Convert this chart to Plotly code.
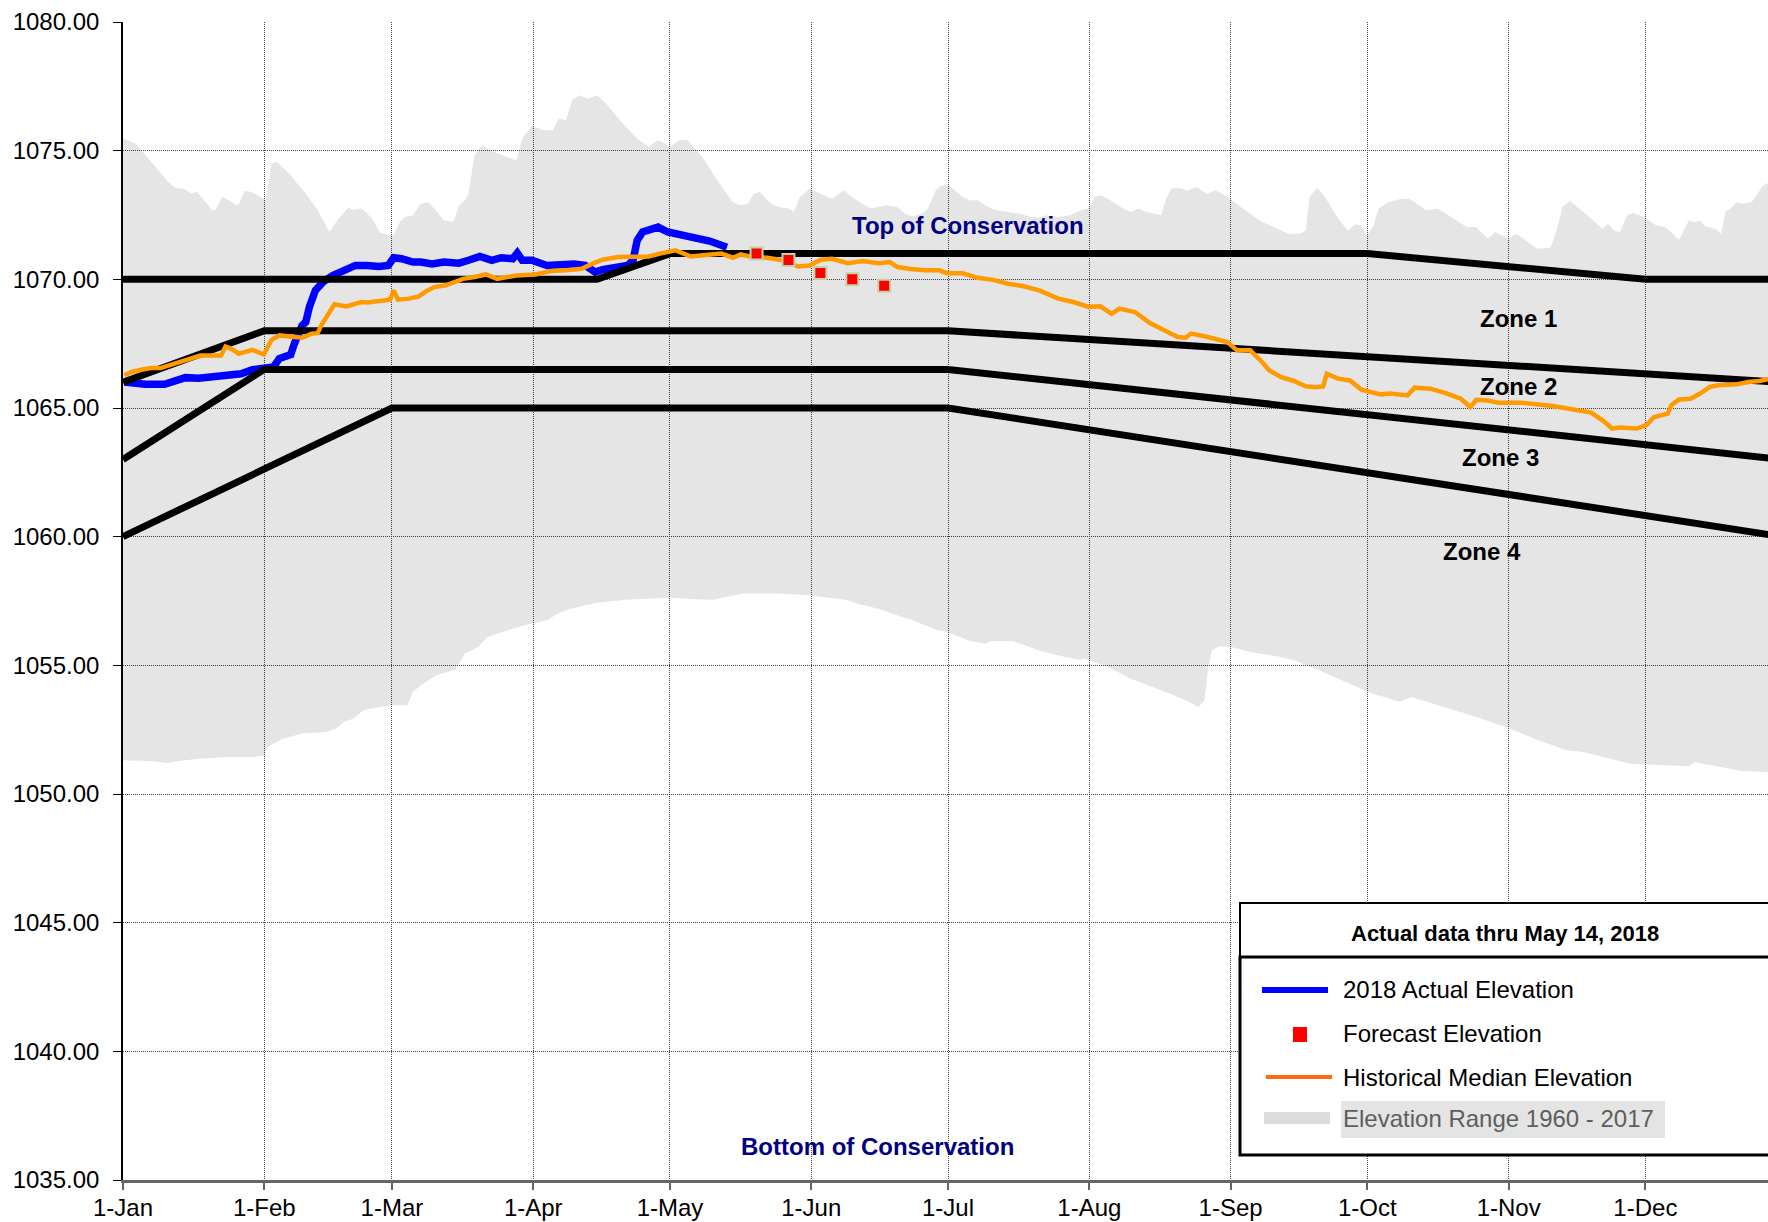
import pandas as pd
import plotly.graph_objects as go

START = pd.Timestamp("2018-01-01")

# ---------------- data (day of year offsets from 1-Jan, elevations in ft) ----------------
range_top_day = [0, 2.8, 6.5, 9.9, 11.6, 13.3, 15.0, 16.2, 19.6, 20.4, 21.7, 23.3, 24.6, 25.4, 26.7, 28.0,
                 30.9, 31.3, 32.6, 33.8, 36.8, 40.1, 42.7, 45.3, 46.9, 49.4, 50.6, 52.3, 54.4, 56.5, 58.6,
                 59.4, 60.7, 61.9, 63.6, 65.3, 67.0, 68.3, 70.4, 72.5, 73.7, 75.0, 75.8, 77.1, 78.8, 80.4,
                 82.1, 84.2, 86.3, 87.6, 89.7, 92.2, 94.3, 95.6, 97.2, 98.5, 100.2, 101.9, 104.0, 106.1,
                 109.4, 112.8, 115.3, 117.4, 119.1, 119.9, 122.0, 123.7, 127.1, 130.4, 133.8, 135.5, 137.1,
                 138.4, 139.7, 142.2, 143.9, 146.0, 147.2, 148.5, 150.6, 153.1, 155.6, 158.1, 160.7, 164.0,
                 167.4, 169.9, 171.6, 173.2, 175.3, 176.6, 178.3, 179.5, 181.2, 182.9, 184.2, 185.8, 187.5,
                 189.2, 190.9, 194.2, 196.8, 199.3, 201.0, 202.6, 205.2, 207.7, 210.2, 211.9, 213.1, 214.4,
                 216.1, 217.8, 219.4, 221.1, 222.8, 224.5, 226.1, 227.8, 228.7, 229.9, 231.6, 233.5, 235.6,
                 237.7, 239.8, 242.3, 245.7, 249.4, 253.2, 255.7, 258.2, 259.5, 260.3, 262.0, 263.7, 266.6,
                 268.7, 270.4, 271.7, 272.9, 274.2, 275.5, 277.6, 280.1, 282.2, 284.3, 286.0, 288.5, 291.8,
                 294.8, 296.9, 299.4, 301.1, 302.7, 304.0, 305.7, 308.2, 310.3, 311.6, 313.2, 314.5, 315.8,
                 317.4, 319.5, 322.1, 324.6, 325.8, 327.1, 328.4, 330.0, 331.3, 333.8, 336.3, 338.4, 341.4,
                 343.5, 344.7, 346.0, 347.2, 349.3, 350.6, 351.6, 352.7, 354.0, 355.2, 357.3, 358.6, 359.8,
                 361.4, 364.0]
range_top_elev = [1075.47, 1075.27, 1074.5, 1073.78, 1073.55, 1073.52, 1073.35, 1073.4, 1072.68, 1072.7,
                  1073.2, 1073.07, 1072.9, 1072.9, 1073.43, 1073.4, 1073.13, 1073.07, 1074.5, 1074.56,
                  1074.04, 1073.33, 1072.68, 1071.84, 1072.27, 1072.78, 1072.7, 1072.75, 1072.42, 1071.8,
                  1071.71, 1071.71, 1072.23, 1072.42, 1072.49, 1072.94, 1073.0, 1072.75, 1072.29, 1072.23,
                  1072.87, 1073.07, 1073.33, 1074.82, 1075.21, 1075.04, 1074.9, 1074.75, 1074.62, 1075.47,
                  1075.98, 1075.79, 1075.79, 1076.24, 1076.18, 1076.96, 1077.15, 1077.02, 1077.15, 1076.8,
                  1076.1, 1075.47, 1075.14, 1075.4, 1075.27, 1075.14, 1075.4, 1075.43, 1074.75, 1073.85,
                  1073.0, 1072.88, 1072.94, 1073.33, 1073.4, 1072.94, 1072.81, 1072.75, 1072.62, 1073.2,
                  1073.52, 1073.33, 1073.13, 1073.46, 1073.1, 1072.75, 1072.88, 1072.81, 1072.55, 1072.45,
                  1072.55, 1072.75, 1073.46, 1073.65, 1073.65, 1073.4, 1073.2, 1073.07, 1073.07, 1072.88,
                  1072.71, 1072.62, 1072.55, 1072.42, 1072.4, 1072.49, 1072.42, 1072.49, 1072.68, 1072.75,
                  1073.2, 1073.27, 1073.13, 1072.94, 1072.75, 1072.62, 1072.75, 1072.62, 1072.55, 1072.49,
                  1073.07, 1073.52, 1073.56, 1073.45, 1073.59, 1073.33, 1073.46, 1073.2, 1072.75, 1072.29,
                  1071.97, 1071.77, 1071.77, 1071.9, 1073.2, 1073.56, 1073.2, 1072.36, 1071.9, 1072.14,
                  1072.1, 1071.71, 1072.03, 1072.75, 1073.0, 1073.12, 1073.13, 1072.88, 1072.68, 1072.75,
                  1072.36, 1072.03, 1072.03, 1071.58, 1071.84, 1071.71, 1071.58, 1071.77, 1071.45, 1071.19,
                  1071.21, 1071.23, 1071.9, 1072.81, 1073.05, 1072.75, 1072.36, 1071.97, 1072.16, 1071.9,
                  1071.84, 1072.49, 1072.58, 1072.42, 1072.1, 1072.03, 1071.54, 1072.29, 1072.22, 1072.29,
                  1072.06, 1071.97, 1071.77, 1072.65, 1072.75, 1073.0, 1072.94, 1073.0, 1073.33, 1073.65,
                  1073.78, 1074.2]

range_bot_day = [0, 6.5, 9.5, 12.4, 16.6, 23.3, 28.4, 30.9, 31.7, 35.1, 39.3, 44.3, 46.7, 48.4, 50.6, 52.7,
                 56.1, 59.4, 62.4, 63.6, 65.3, 68.7, 72.9, 73.7, 75.0, 77.9, 80.0, 82.1, 85.5, 88.0, 93.0,
                 95.5, 98.1, 101.4, 103.6, 110.3, 115.3, 120.4, 125.4, 129.6, 132.1, 136.3, 143.9, 150.6,
                 154.8, 159.0, 161.5, 165.7, 169.9, 173.2, 178.3, 180.8, 185.8, 189.2, 190.5, 195.1, 201.0,
                 206.0, 209.4, 211.0, 216.1, 221.1, 226.1, 229.7, 233.1, 236.0, 237.3, 238.1, 238.9, 240.6,
                 243.1, 247.3, 253.2, 256.6, 261.6, 270.0, 274.2, 280.1, 282.6, 288.5, 296.9, 303.6, 310.3,
                 316.6, 320.4, 330.5, 333.8, 343.5, 344.7, 350.6, 354.8, 361.4, 364.0]
range_bot_elev = [1051.31, 1051.27, 1051.2, 1051.28, 1051.37, 1051.44, 1051.44, 1051.5, 1051.83, 1052.15,
                  1052.35, 1052.41, 1052.54, 1052.8, 1052.93, 1053.25, 1053.38, 1053.45, 1053.45, 1053.96,
                  1054.22, 1054.61, 1054.83, 1055.07, 1055.46, 1055.71, 1056.1, 1056.23, 1056.43, 1056.56,
                  1056.75, 1057.01, 1057.2, 1057.33, 1057.42, 1057.55, 1057.59, 1057.63, 1057.57, 1057.55,
                  1057.66, 1057.79, 1057.79, 1057.72, 1057.63, 1057.53, 1057.37, 1057.2, 1056.94, 1056.75,
                  1056.39, 1056.3, 1055.95, 1055.84, 1055.95, 1055.95, 1055.58, 1055.35, 1055.22, 1055.26,
                  1054.94, 1054.48, 1054.13, 1053.9, 1053.64, 1053.38, 1053.64, 1054.94, 1055.58, 1055.74,
                  1055.71, 1055.52, 1055.35, 1055.22, 1054.87, 1054.22, 1053.9, 1053.58, 1053.77, 1053.45,
                  1052.99, 1052.58, 1052.11, 1051.7, 1051.63, 1051.18, 1051.15, 1051.08, 1051.24, 1051.05,
                  1050.89, 1050.85, 1050.83]

median_day = [0.3, 1.9, 4.0, 6.1, 8.2, 10.3, 12.4, 14.9, 17.0, 19.1, 21.5, 22.5, 23.8, 25.4, 26.7, 28.4,
              30.9, 31.7, 32.6, 34.3, 36.8, 39.3, 41.4, 42.7, 43.5, 45.2, 46.4, 49.0, 50.6, 52.3, 53.6,
              56.1, 58.6, 59.4, 60.3, 62.8, 64.9, 66.6, 68.3, 70.8, 72.9, 74.6, 77.1, 79.6, 82.1, 84.6,
              86.3, 90.5, 93.9, 97.2, 100.6, 102.9, 105.2, 108.6, 111.9, 115.3, 117.8, 121.2, 124.5, 127.9,
              131.3, 133.8, 135.5, 138.0, 141.3, 144.7, 148.1, 150.6, 153.1, 155.6, 159.0, 162.3, 165.7,
              168.2, 169.9, 172.4, 175.8, 179.1, 180.8, 184.2, 187.5, 190.9, 194.2, 197.6, 201.0, 205.2,
              208.5, 211.9, 214.4, 216.9, 218.6, 222.0, 225.3, 227.8, 229.9, 231.4, 233.1, 234.3, 237.3,
              240.6, 242.3, 244.4, 247.3, 249.9, 251.5, 254.1, 256.6, 259.5, 261.6, 263.3, 264.1, 266.6,
              269.2, 271.7, 275.9, 278.0, 281.8, 283.4, 286.8, 290.2, 293.5, 295.6, 296.9, 299.4, 301.9,
              306.9, 310.3, 313.7, 317.9, 322.1, 324.6, 326.7, 328.4, 332.1, 334.2, 335.9, 338.9, 339.7,
              341.4, 343.9, 346.0, 348.1, 349.8, 354.0, 356.5, 359.0, 361.4, 364.0]
median_elev = [1066.27, 1066.4, 1066.49, 1066.55, 1066.55, 1066.66, 1066.81, 1066.92, 1067.04, 1067.04,
               1067.04, 1067.39, 1067.3, 1067.11, 1067.17, 1067.26, 1067.08, 1067.37, 1067.65, 1067.82,
               1067.78, 1067.73, 1067.89, 1067.91, 1068.21, 1068.73, 1069.03, 1068.95, 1069.05, 1069.12,
               1069.1, 1069.14, 1069.21, 1069.57, 1069.21, 1069.25, 1069.34, 1069.55, 1069.7, 1069.77,
               1069.9, 1070.02, 1070.09, 1070.19, 1070.02, 1070.09, 1070.15, 1070.19, 1070.32, 1070.35,
               1070.41, 1070.6, 1070.76, 1070.87, 1070.89, 1070.89, 1071.0, 1071.13, 1070.89, 1070.93,
               1071.0, 1070.84, 1070.97, 1070.87, 1070.84, 1070.74, 1070.5, 1070.54, 1070.76, 1070.8,
               1070.63, 1070.71, 1070.63, 1070.67, 1070.48, 1070.41, 1070.35, 1070.35, 1070.24, 1070.24,
               1070.06, 1069.98, 1069.83, 1069.73, 1069.57, 1069.25, 1069.12, 1068.93, 1068.95, 1068.66,
               1068.86, 1068.73, 1068.3, 1068.08, 1067.9, 1067.76, 1067.73, 1067.89, 1067.79, 1067.63,
               1067.56, 1067.24, 1067.24, 1066.79, 1066.46, 1066.2, 1066.07, 1065.84, 1065.81, 1065.84,
               1066.33, 1066.14, 1066.07, 1065.71, 1065.53, 1065.56, 1065.49, 1065.79, 1065.75, 1065.58,
               1065.36, 1065.04, 1065.32, 1065.29, 1065.2, 1065.2, 1065.15, 1065.08, 1064.95, 1064.82,
               1064.52, 1064.2, 1064.24, 1064.2, 1064.33, 1064.65, 1064.78, 1065.11, 1065.33, 1065.36,
               1065.56, 1065.81, 1065.88, 1065.92, 1066.01, 1066.05, 1066.14, 1066.2]

actual_day = [0.3, 2.4, 4.9, 9.1, 11.6, 13.7, 16.6, 20.0, 22.5, 25.9, 28.4, 30.9, 33.0, 34.3, 36.8, 37.6,
              39.3, 40.1, 40.9, 42.2, 43.9, 46.0, 48.5, 51.0, 53.6, 56.1, 58.2, 59.4, 61.1, 63.6, 65.3,
              67.8, 70.4, 73.7, 75.8, 78.3, 80.9, 83.0, 85.5, 86.5, 87.6, 89.7, 93.0, 96.4, 98.9, 101.4,
              103.6, 105.2, 108.6, 110.7, 111.9, 112.8, 114.0, 115.7, 117.4, 119.5, 122.9, 125.4, 128.7,
              132.5]
actual_elev = [1066.01, 1065.95, 1065.92, 1065.92, 1066.07, 1066.18, 1066.16, 1066.2, 1066.28, 1066.33,
               1066.49, 1066.53, 1066.59, 1066.92, 1067.08, 1067.5, 1068.21, 1068.34, 1068.93, 1069.57,
               1069.9, 1070.15, 1070.38, 1070.54, 1070.54, 1070.5, 1070.54, 1070.84, 1070.8, 1070.67,
               1070.67, 1070.6, 1070.67, 1070.63, 1070.74, 1070.89, 1070.74, 1070.84, 1070.8, 1071.02,
               1070.74, 1070.74, 1070.54, 1070.58, 1070.6, 1070.54, 1070.28, 1070.38, 1070.48, 1070.54,
               1070.74, 1071.51, 1071.84, 1071.97, 1072.03, 1071.84, 1071.71, 1071.64, 1071.49, 1071.25]

forecast_dates = ["2018-05-20", "2018-05-27", "2018-06-03", "2018-06-10", "2018-06-17"]
forecast_elev = [1071.0, 1070.75, 1070.25, 1070.0, 1069.75]

# Rule curves (zone boundaries)
top_cons_dates = ["2018-01-01", "2018-04-15", "2018-05-01", "2018-10-01", "2018-12-01", "2018-12-31"]
top_cons_elev = [1070, 1070, 1071, 1071, 1070, 1070]
zone12_dates = ["2018-01-01", "2018-02-01", "2018-07-01", "2018-12-31"]
zone12_elev = [1066, 1068, 1068, 1066]
zone23_dates = ["2018-01-01", "2018-02-01", "2018-07-01", "2018-12-31"]
zone23_elev = [1063, 1066.5, 1066.5, 1063]
zone34_dates = ["2018-01-01", "2018-03-01", "2018-07-01", "2018-12-31"]
zone34_elev = [1060, 1065, 1065, 1060]

legend_title = "Actual data thru May 14, 2018"
legend_labels = ["2018 Actual Elevation", "Forecast Elevation",
                 "Historical Median Elevation", "Elevation Range 1960 - 2017"]
zone_labels = ["Zone 1", "Zone 2", "Zone 3", "Zone 4"]


def to_dates(days):
    return [START + pd.Timedelta(days=d) for d in days]


# ---------------- layout geometry ----------------
W, H = 1768, 1222
ML, MR, MT, MB = 123, 0, 22, 42
PW, PH = W - ML - MR, H - MT - MB


def px(x):
    return (x - ML) / PW


def py(y):
    return (H - MB - y) / PH


FONT = "Liberation Sans, Arial, sans-serif"

fig = go.Figure()

# Historical range band (closed polygon)
band_x = to_dates(range_top_day) + to_dates(range_bot_day[::-1])
band_y = range_top_elev + range_bot_elev[::-1]
fig.add_trace(go.Scatter(x=band_x, y=band_y, fill="toself", fillcolor="rgba(0,0,0,0.10)",
                         line=dict(width=0), mode="lines", hoverinfo="skip"))

fig.add_trace(go.Scatter(x=to_dates(actual_day), y=actual_elev, mode="lines",
                         line=dict(color="#0000FF", width=7.5)))

for dts, ev in [(top_cons_dates, top_cons_elev), (zone12_dates, zone12_elev),
                (zone23_dates, zone23_elev), (zone34_dates, zone34_elev)]:
    fig.add_trace(go.Scatter(x=pd.to_datetime(dts), y=ev, mode="lines",
                             line=dict(color="black", width=7)))

fig.add_trace(go.Scatter(x=to_dates(median_day), y=median_elev, mode="lines",
                         line=dict(color="#FF9A00", width=4.5)))
fig.add_trace(go.Scatter(x=pd.to_datetime(forecast_dates), y=forecast_elev, mode="markers",
                         marker=dict(symbol="square", size=12, color="#FF0000",
                                     line=dict(color="#C2D2A8", width=2))))


def label(x, y, text, size=24, color="black", xanchor="center"):
    return dict(x=px(x), y=py(y), xref="paper", yref="paper", text=text, showarrow=False,
                xanchor=xanchor, yanchor="middle",
                font=dict(size=size, color=color, family=FONT))


# ---------------- labels ----------------
ann = [label(968, 225, "<b>Top of Conservation</b>", color="#000080"),
       label(877, 1146, "<b>Bottom of Conservation</b>", color="#000080")]
for lab, (zx, zy) in zip(zone_labels, [(1518, 318), (1518, 387), (1500, 457), (1482, 551)]):
    ann.append(label(zx, zy, f"<b>{lab}</b>"))

# ---------------- manual legend ----------------
shapes = []
shapes.append(dict(type="rect", xref="paper", yref="paper", x0=px(1240), x1=px(1790),
                   y0=py(903), y1=py(957), line=dict(color="black", width=2), fillcolor="white"))
shapes.append(dict(type="rect", xref="paper", yref="paper", x0=px(1240), x1=px(1790),
                   y0=py(957), y1=py(1155), line=dict(color="black", width=3), fillcolor="white"))
shapes.append(dict(type="line", xref="paper", yref="paper", x0=px(1262), x1=px(1328),
                   y0=py(990), y1=py(990), line=dict(color="#0000FF", width=6)))
shapes.append(dict(type="rect", xref="paper", yref="paper", x0=px(1293), x1=px(1307),
                   y0=py(1027), y1=py(1042), line=dict(width=0), fillcolor="#FF0000"))
shapes.append(dict(type="line", xref="paper", yref="paper", x0=px(1266), x1=px(1332),
                   y0=py(1077), y1=py(1077), line=dict(color="#FF6A10", width=4)))
shapes.append(dict(type="rect", xref="paper", yref="paper", x0=px(1264), x1=px(1330),
                   y0=py(1112), y1=py(1124), line=dict(width=0), fillcolor="#DCDCDC"))
shapes.append(dict(type="rect", xref="paper", yref="paper", x0=px(1341), x1=px(1665),
                   y0=py(1101), y1=py(1138), line=dict(width=0), fillcolor="#E4E4E4"))

ann.append(label(1505, 933, f"<b>{legend_title}</b>", size=22))
for lab, ly, col in zip(legend_labels, [990, 1033, 1077, 1118],
                        ["black", "black", "black", "#5E5E5E"]):
    ann.append(label(1341, ly, lab, color=col, xanchor="left"))

fig.update_layout(
    width=W, height=H,
    margin=dict(l=ML, r=MR, t=MT, b=MB, pad=0, autoexpand=False),
    paper_bgcolor="white", plot_bgcolor="white",
    showlegend=False,
    font=dict(family=FONT, size=24, color="black"),
    shapes=shapes, annotations=ann,
)
fig.update_xaxes(
    type="date", automargin=False,
    range=[START, START + pd.Timedelta(days=360.9)],
    tick0="2018-01-01", dtick="M1", tickformat="%-d-%b",
    ticks="outside", ticklen=7, tickcolor="#666666", tickwidth=1.5,
    ticklabelstandoff=-3,
    showline=True, linecolor="#666666", linewidth=2.5,
    showgrid=True, gridcolor="#444444", gridwidth=1, griddash="1px,1px",
    zeroline=False, tickfont=dict(size=24),
)
fig.update_yaxes(
    automargin=False,
    range=[1035, 1080], dtick=5, tick0=1035, tickformat=".2f",
    ticks="outside", ticklen=8, tickcolor="black", tickwidth=1,
    ticklabelstandoff=9,
    showline=True, linecolor="black", linewidth=1.5,
    showgrid=True, gridcolor="#444444", gridwidth=1, griddash="1px,1px",
    zeroline=False, tickfont=dict(size=24),
)

fig.write_html("out.html", config={"displayModeBar": False},
               post_script="document.body.style.margin='0';document.body.style.overflow='hidden';")
